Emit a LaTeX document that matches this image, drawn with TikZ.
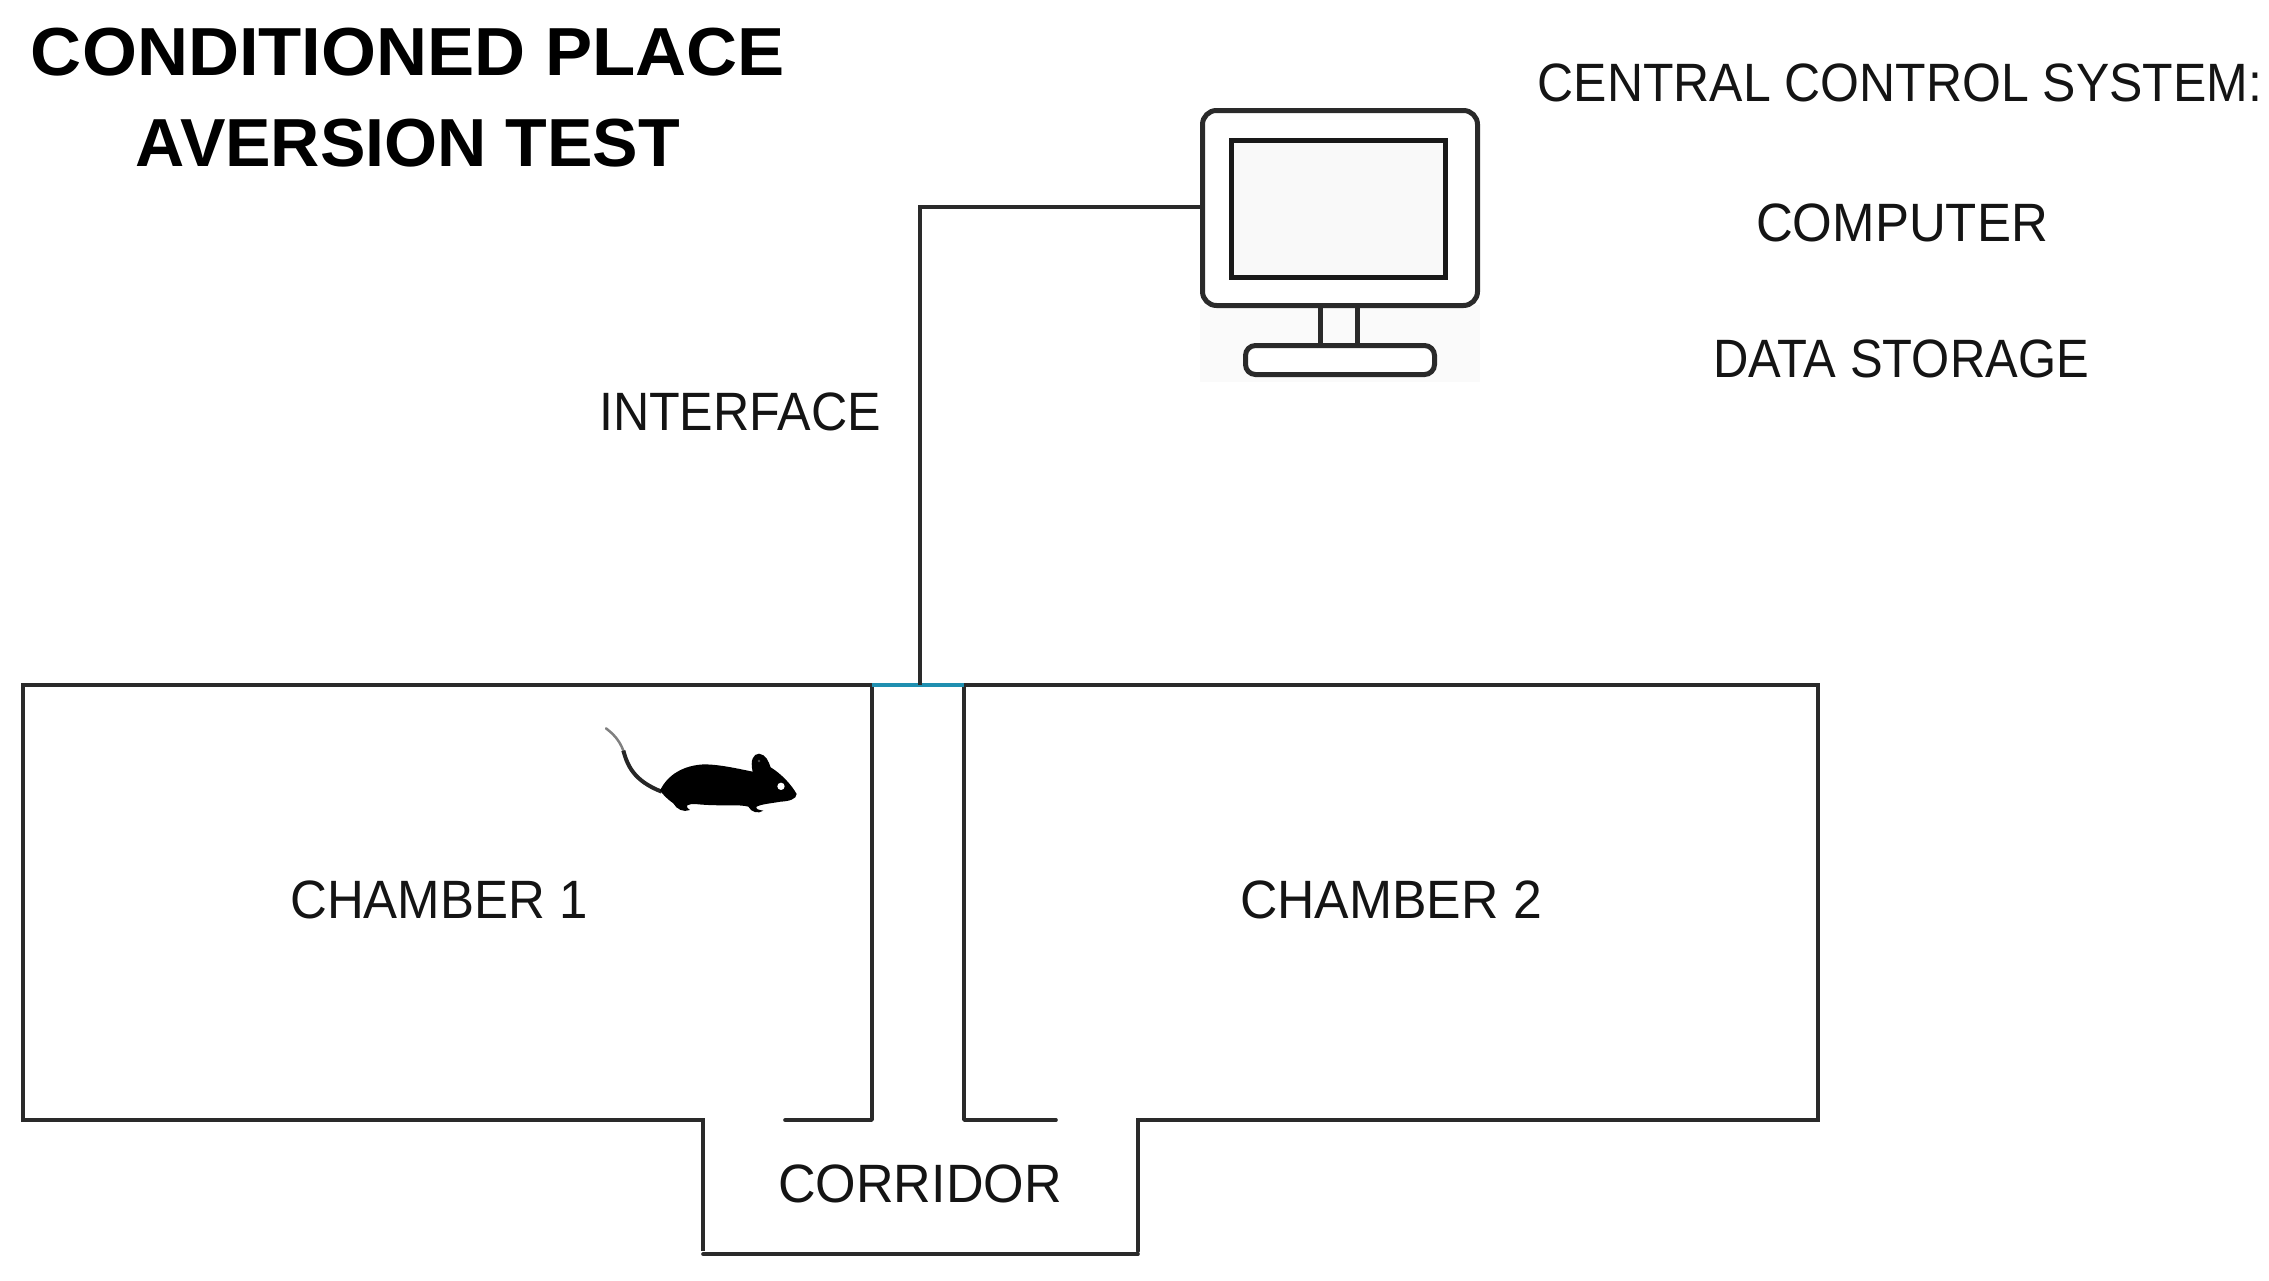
\documentclass[tikz,border=0pt]{standalone}
\usepackage{fontspec}
\setmainfont{Liberation Sans}
\newfontfamily\lblfont[FakeStretch=0.93]{Liberation Sans}
\newfontfamily\ttlfont[FakeStretch=1.05]{Liberation Sans}
\definecolor{wallc}{HTML}{2A2A2A}
\definecolor{linkc}{HTML}{1F8FB0}
\definecolor{screenc}{HTML}{F9F9F9}
\definecolor{standbg}{HTML}{FAFAFA}
\tikzset{
  lbl/.style={anchor=base,inner sep=0pt,font=\lblfont\fontsize{54}{54}\selectfont,text=black!92},
  ttl/.style={anchor=base,inner sep=0pt,font=\ttlfont\bfseries\fontsize{68}{68}\selectfont,text=black},
  wall/.style={draw=wallc,line width=3.6pt,line join=round,line cap=round},
  mon/.style={draw=wallc,line width=5pt,fill=white,inner sep=0pt,rounded corners=14pt},
}
\begin{document}
\begin{tikzpicture}[x=1pt,y=-1pt]
\useasboundingbox (0,0) rectangle (2269,1280);
% stand background
\fill[standbg] (1200,305) rectangle (1480,382);
% titles and labels
\node[ttl,xscale=0.99] (t1) at (408,75) {CONDITIONED PLACE};
\node[ttl,xscale=0.955] (t2) at (408,166) {AVERSION TEST};
\node[lbl,xscale=0.995] (ccs) at (1900,101) {CENTRAL CONTROL SYSTEM:};
\node[lbl,xscale=1.015] (comp) at (1902,241) {COMPUTER};
\node[lbl,xscale=0.975] (data) at (1901,377) {DATA STORAGE};
\node[lbl] (iface) at (740,430) {INTERFACE};
\node[lbl,xscale=1.015] (ch1) at (439,918) {CHAMBER 1};
\node[lbl,xscale=1.03] (ch2) at (1391,918) {CHAMBER 2};
\node[lbl,xscale=1.037] (corr) at (920,1202) {CORRIDOR};
% computer
\node[mon,minimum width=275pt,minimum height=195pt,anchor=north west] (monitor) at (1200,108) {};
\node[draw=black!90,line width=5pt,fill=screenc,minimum width=214pt,minimum height=137pt,inner sep=0pt,anchor=north west] (screen) at (1229,138) {};
\node[mon,rounded corners=10pt,minimum width=189pt,minimum height=29pt,anchor=north west] (base) at (1243,343) {};
\draw[draw=wallc,line width=5pt] (1320,303) -- (1320,343);
\draw[draw=wallc,line width=5pt] (1357,303) -- (1357,343);
% chambers
\coordinate (topL) at (872,685);
\coordinate (topR) at (964,685);
\coordinate (drop) at (920,685);
\draw[wall,line cap=butt,line join=miter] (topL) -- (23,685) -- (23,1120) -- (703,1120) -- (703,1251);
\draw[wall] (703,1254) -- (1138,1254);
\draw[wall,line join=miter] (1138,1251) -- (1138,1120) -- (1818,1120) -- (1818,685) -- (topR);
\draw[wall] (topL) -- (872,1120) -- (785,1120);
\draw[wall] (topR) -- (964,1120) -- (1056,1120);
\draw[draw=linkc,line width=3.6pt] (topL) -- (topR);
% interface link
\draw[draw=wallc,line width=3.6pt] (monitor.west |- 0,207) -- (920,207) -- (drop);
% mouse
\begin{scope}[shift={(580,660)},x=0.3333pt,y=-0.3333pt]
\draw[draw=black!50,line width=2.5pt,line cap=round] (78,205) .. controls (100,222) and (118,240) .. (130,272);
\draw[draw=black!85,line width=4pt] (130,272) .. controls (142,315) and (160,362) .. (245,395);
\fill[black] (240,392) .. controls (262,345) and (310,315) .. (375,313)
 .. controls (420,314) and (470,325) .. (518,335)
 .. controls (510,300) and (520,282) .. (537,281)
 .. controls (558,283) and (566,305) .. (572,322)
 .. controls (605,342) and (635,375) .. (650,402)
 .. controls (650,418) and (625,424) .. (602,425)
 .. controls (575,430) and (545,432) .. (530,440)
 .. controls (525,446) and (535,450) .. (550,452)
 .. controls (535,462) and (515,458) .. (505,440)
 .. controls (480,432) and (420,440) .. (345,432)
 .. controls (325,432) and (310,436) .. (330,450)
 .. controls (310,458) and (290,448) .. (280,430)
 .. controls (265,420) and (250,405) .. (240,392) -- cycle;
\fill[white] (603,379) circle[radius=11];
\fill[black!70] (537,303) circle[radius=4];
\end{scope}
\end{tikzpicture}
\end{document}
